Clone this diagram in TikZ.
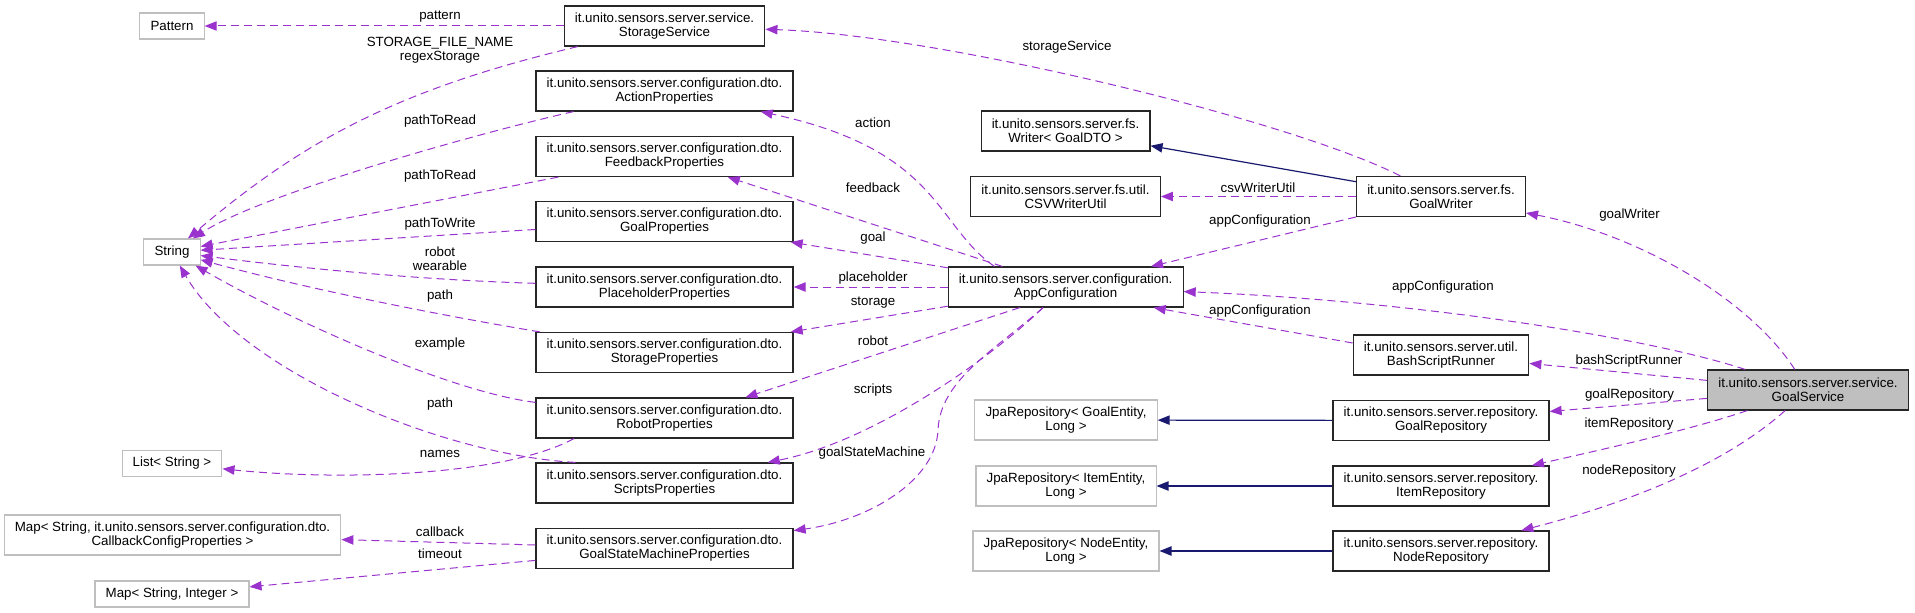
\documentclass[tikz,border=0pt]{standalone}
\usepackage{fontspec}
\setmainfont{Liberation Sans}
\usepackage{tikz}
\usetikzlibrary{arrows.meta}
\definecolor{depc}{HTML}{9A32CD}
\definecolor{inhc}{HTML}{191970}
\definecolor{extc}{HTML}{BFBFBF}
\definecolor{selc}{HTML}{BFBFBF}
\tikzset{
  cls/.style={draw=black!85,line width=0.9pt,fill=white,align=center,inner xsep=8pt,inner ysep=3pt,minimum height=19.5pt,font=\fontsize{10}{10.5}\selectfont},
  ext/.style={cls,draw=extc,line width=0.8pt},
  sel/.style={cls,fill=selc},
  two/.style={minimum height=30pt},
  dep/.style={depc,line width=0.75pt,dash pattern=on 6pt off 3.75pt,-{Triangle[length=9pt,width=7pt]}},
  inh/.style={inhc,line width=0.9pt,-{Triangle[length=9pt,width=7pt]}},
  lbl/.style={font=\fontsize{10}{10.5}\selectfont,inner sep=0pt,align=center}
}
\begin{document}
\begin{tikzpicture}[x=0.75pt,y=-0.75pt]
\useasboundingbox (0,0) rectangle (1915,613);
% plain types on the left
\node[ext] (pattern) at (172,26) {Pattern};
\node[ext] (strng) at (172,252) {String};
\node[ext] (lststr) at (172,463.5) {List< String >};
\node[ext,two] (mapcb) at (172.5,535) {Map< String, it.unito.sensors.server.configuration.dto.\\CallbackConfigProperties >};
\node[ext] (mapint) at (172,594) {Map< String, Integer >};
% service and dto column
\node[cls,two] (storsvc) at (664.5,26) {it.unito.sensors.server.service.\\StorageService};
\node[cls,two] (actp) at (664.5,91) {it.unito.sensors.server.configuration.dto.\\ActionProperties};
\node[cls,two] (fbkp) at (664.5,156.5) {it.unito.sensors.server.configuration.dto.\\FeedbackProperties};
\node[cls,two] (goalp) at (664.5,221.5) {it.unito.sensors.server.configuration.dto.\\GoalProperties};
\node[cls,two] (plhp) at (664.5,287) {it.unito.sensors.server.configuration.dto.\\PlaceholderProperties};
\node[cls,two] (storp) at (664.5,352.5) {it.unito.sensors.server.configuration.dto.\\StorageProperties};
\node[cls,two] (robp) at (664.5,418) {it.unito.sensors.server.configuration.dto.\\RobotProperties};
\node[cls,two] (scrp) at (664.5,483) {it.unito.sensors.server.configuration.dto.\\ScriptsProperties};
\node[cls,two] (gsmp) at (664.5,548.5) {it.unito.sensors.server.configuration.dto.\\GoalStateMachineProperties};
% middle column
\node[cls,two] (writer) at (1065.5,131) {it.unito.sensors.server.fs.\\Writer< GoalDTO >};
\node[cls,two] (csvutil) at (1065.5,196.5) {it.unito.sensors.server.fs.util.\\CSVWriterUtil};
\node[cls,two] (cfg) at (1065.7,287) {it.unito.sensors.server.configuration.\\AppConfiguration};
\node[ext,two] (jpagoal) at (1066,420) {JpaRepository< GoalEntity,\\Long >};
\node[ext,two] (jpaitem) at (1066,486) {JpaRepository< ItemEntity,\\Long >};
\node[ext,two] (jpanode) at (1066,551) {JpaRepository< NodeEntity,\\Long >};
% right columns
\node[cls,two] (gwriter) at (1441,196.5) {it.unito.sensors.server.fs.\\GoalWriter};
\node[cls,two] (bsr) at (1441,355) {it.unito.sensors.server.util.\\BashScriptRunner};
\node[cls,two] (goalrepo) at (1441,420.5) {it.unito.sensors.server.repository.\\GoalRepository};
\node[cls,two] (itemrepo) at (1441,486) {it.unito.sensors.server.repository.\\ItemRepository};
\node[cls,two] (noderepo) at (1441,551) {it.unito.sensors.server.repository.\\NodeRepository};
\node[sel,two] (goalsvc) at (1808,390) {it.unito.sensors.server.service.\\GoalService};

% usage edges into the left column
\draw[dep] (storsvc) -- (pattern);
\draw[dep] (storsvc) .. controls (399,89) and (304,140) .. (strng);
\draw[dep] (actp) .. controls (470,135) and (260,195) .. (strng);
\draw[dep] (fbkp) -- (strng);
\draw[dep] (goalp) -- (strng);
\draw[dep] (plhp) .. controls (420,280) and (300,268) .. (strng);
\draw[dep] (storp) .. controls (480,322) and (330,295) .. (strng);
\draw[dep] (robp) .. controls (450,392) and (290,320) .. (strng);
\draw[dep] ([xshift=30pt]scrp.north west) .. controls (440,455) and (240,370) .. (strng);
\draw[dep] ([xshift=29pt]robp.south west) .. controls (500,478) and (330,480) .. (lststr);
\draw[dep] (gsmp) -- (mapcb);
\draw[dep] (gsmp) -- (mapint);
\node[lbl] (l1) at (440,17) {pattern};
\node[lbl] (l2) at (440,50) {STORAGE\_FILE\_NAME\\regexStorage};
\node[lbl] (l3) at (440,121) {pathToRead};
\node[lbl] (l4) at (440,176) {pathToRead};
\node[lbl] (l5) at (440,224) {pathToWrite};
\node[lbl] (l6) at (440,259) {robot\\wearable};
\node[lbl] (l7) at (440,296) {path};
\node[lbl] (l8) at (440,344) {example};
\node[lbl] (l9) at (440,404) {path};
\node[lbl] (l10) at (440,454) {names};
\node[lbl] (l11) at (440,532) {callback};
\node[lbl] (l12) at (440,554) {timeout};

% AppConfiguration members
\draw[dep] ([xshift=35pt]cfg.north west) .. controls (935,225) and (940,150) .. (actp);
\draw[dep] (cfg) -- (fbkp);
\draw[dep] (cfg) -- (goalp);
\draw[dep] (cfg) -- (plhp);
\draw[dep] (cfg) -- (storp);
\draw[dep] ([xshift=54pt]cfg.south west) -- ([xshift=157.5pt]robp.north west);
\draw[dep] ([xshift=71.5pt]cfg.south west) .. controls (1000,350) and (880,440) .. (scrp);
\draw[dep] ([xshift=71.5pt]cfg.south west) .. controls (995,350) and (940,380) .. (938,430)
  .. controls (936,480) and (870,520) .. (gsmp);
\node[lbl] (l13) at (873,123) {action};
\node[lbl] (l14) at (873,188) {feedback};
\node[lbl] (l15) at (873,238) {goal};
\node[lbl] (l16) at (873,278) {placeholder};
\node[lbl] (l17) at (873,303) {storage};
\node[lbl] (l18) at (873,341) {robot};
\node[lbl] (l19) at (873,390) {scripts};
\node[lbl] (l20) at (872,453) {goalStateMachine};

% GoalWriter and BashScriptRunner
\draw[inh] (gwriter) -- (writer);
\draw[dep] (gwriter) -- (csvutil);
\draw[dep] (gwriter) -- (cfg);
\draw[dep] (gwriter) .. controls (1290,120) and (940,35) .. (storsvc);
\draw[dep] ([yshift=9pt]bsr.west) -- ([xshift=-22.5pt]cfg.south east);
\node[lbl] (l21) at (1067,47) {storageService};
\node[lbl] (l22) at (1258,188) {csvWriterUtil};
\node[lbl] (l23) at (1260,221) {appConfiguration};
\node[lbl] (l24) at (1260,311) {appConfiguration};

% repositories
\draw[inh] (goalrepo) -- (jpagoal);
\draw[inh] (itemrepo) -- (jpaitem);
\draw[inh] (noderepo) -- (jpanode);

% GoalService members
\draw[dep] (goalsvc) .. controls (1750,300) and (1640,235) .. (gwriter);
\draw[dep] (goalsvc) .. controls (1640,335) and (1400,300) .. (cfg);
\draw[dep] (goalsvc) -- (bsr);
\draw[dep] (goalsvc) -- (goalrepo);
\draw[dep] (goalsvc) .. controls (1690,430) and (1600,450) .. (itemrepo);
\draw[dep] (goalsvc) .. controls (1730,460) and (1640,500) .. (noderepo);
\node[lbl] (l25) at (1629.5,215) {goalWriter};
\node[lbl] (l26) at (1443,287) {appConfiguration};
\node[lbl] (l27) at (1629,361) {bashScriptRunner};
\node[lbl] (l28) at (1629.5,395) {goalRepository};
\node[lbl] (l29) at (1629,424) {itemRepository};
\node[lbl] (l30) at (1629,471) {nodeRepository};
\end{tikzpicture}
\end{document}
